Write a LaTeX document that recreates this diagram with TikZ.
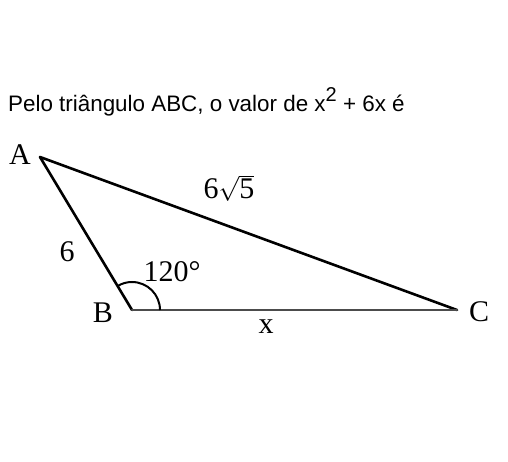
\documentclass[tikz,border=0pt]{standalone}
\usepackage{fontspec}
\setmainfont{Liberation Serif}
\newfontfamily\arialfont{Liberation Sans}
\begin{document}
\begin{tikzpicture}[x=1pt,y=-1pt,
  side/.style={line width=2.6pt,line cap=round,line join=round},
  lbl/.style={font=\fontsize{30}{32}\selectfont,inner sep=0pt}]
\useasboundingbox (0,0) rectangle (508,462);
\node[anchor=base west,inner sep=0pt,font=\arialfont\fontsize{22.4}{25}\selectfont] (q) at (8,112)
  {Pelo triângulo ABC, o valor de x\raisebox{0.48em}{\fontsize{20}{22}\selectfont 2} + 6x é};
\coordinate (A) at (40,157);
\coordinate (B) at (132,310);
\coordinate (C) at (457,310);
\draw[side] (A) -- (B);
\draw[side] (A) -- (C);
\draw[side,black!70] (B) -- (C);
\draw[line width=2pt] ([xshift=28pt]B) arc[start angle=0,end angle=-121,radius=28];
\node[lbl] (lA) at (20,155) {A};
\node[lbl] (lB) at (103,313) {B};
\node[lbl] (lC) at (479,312) {C};
\node[lbl] (l6) at (67,252) {6};
\node[lbl] (lang) at (172,272) {120°};
\node[lbl] (lac) at (229,188) {6$\sqrt{\mbox{\fontsize{30}{32}\selectfont 5}}$};
\node[lbl] (lx) at (266,327) {x};
\end{tikzpicture}
\end{document}
